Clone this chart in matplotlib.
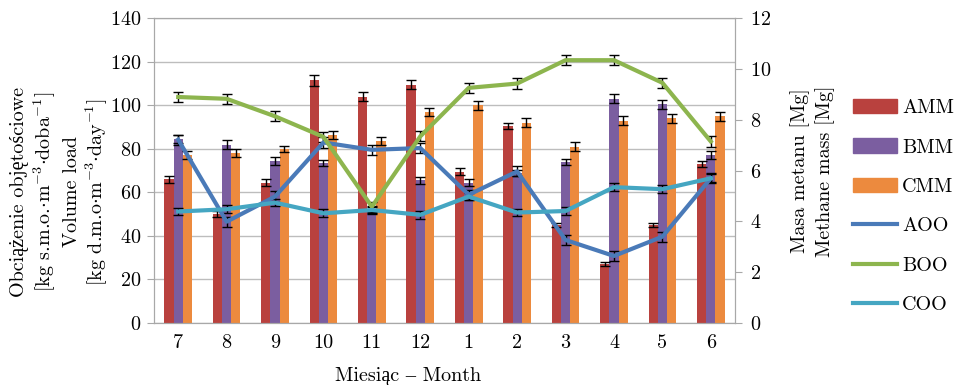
import matplotlib
matplotlib.use("Agg")
import matplotlib.pyplot as plt
import numpy as np
from matplotlib.patches import Patch
from matplotlib.lines import Line2D

plt.rcParams["font.family"] = ["cmr10", "Liberation Serif"]
plt.rcParams["mathtext.fontset"] = "cm"
plt.rcParams["axes.formatter.use_mathtext"] = True

months = ["7", "8", "9", "10", "11", "12", "1", "2", "3", "4", "5", "6"]

# volume load (left axis)
amm = [66, 50, 64.5, 111.5, 104, 109.5, 69.5, 90.5, 45, 27, 45, 73]
bmm = [84.5, 82, 74.5, 73.5, 52, 65.5, 64.5, 69, 74, 103, 100.5, 77]
cmm = [77, 78, 80, 86.5, 83.5, 97, 100, 92, 81, 93, 94, 95]
amm_err = [1.5, 1.5, 1.5, 2.5, 2, 2, 1.5, 1.5, 1, 0.8, 1, 1.5]
bmm_err = [2, 2, 1.8, 1.5, 1.5, 1.5, 1.5, 1.5, 1.5, 2, 2, 1.8]
cmm_err = [1.8, 1.8, 1.5, 1.8, 1.8, 2, 2, 2, 2, 2, 2, 2]

# methane mass (right axis)
aoo = [7.22, 3.99, 4.98, 7.11, 6.82, 6.89, 5.05, 5.97, 3.27, 2.64, 3.40, 5.70]
boo = [8.90, 8.83, 8.14, 7.33, 4.58, 7.35, 9.26, 9.43, 10.35, 10.35, 9.46, 7.15]
coo = [4.39, 4.48, 4.74, 4.32, 4.45, 4.26, 4.98, 4.35, 4.41, 5.35, 5.27, 5.70]
aoo_err = [0.2] * 12
boo_err = [0.2] * 12
coo_err = [0.15] * 12

c_amm, c_bmm, c_cmm = "#B9413E", "#7B5EA0", "#EC8A3E"
c_aoo, c_boo, c_coo = "#4A7AB8", "#8DB54E", "#45A6C2"
grid_c = "#BDBDBD"
spine_c = "#A8A8A8"
fs = 14.5

W, H = 958, 385
fig = plt.figure(figsize=(W / 100, H / 100), dpi=100)
x0, x1, ytop, ybot = 154, 735, 18.3, 323
ax = fig.add_axes([x0 / W, (H - ybot) / H, (x1 - x0) / W, (ybot - ytop) / H])

x = np.arange(len(months))
bw = 0.19
ekw = dict(ecolor="black", elinewidth=1.0, capsize=3.6, capthick=1.0)
ax.bar(x - bw, amm, bw, color=c_amm, yerr=amm_err, error_kw=ekw, zorder=2)
ax.bar(x, bmm, bw, color=c_bmm, yerr=bmm_err, error_kw=ekw, zorder=2)
ax.bar(x + bw, cmm, bw, color=c_cmm, yerr=cmm_err, error_kw=ekw, zorder=2)

ax.set_xlim(-0.5, len(months) - 0.5)
ax.set_ylim(0, 140)
ax.set_yticks(np.arange(0, 141, 20))
ax.set_xticks(x)
ax.set_xticklabels(months)
ax.yaxis.grid(True, color=grid_c, linewidth=1.0)
ax.set_axisbelow(True)
for s in ax.spines.values():
    s.set_color(spine_c)
ax.tick_params(axis="y", direction="out", length=5, color=spine_c, labelsize=fs, pad=4)
ax.tick_params(axis="x", length=0, labelsize=fs, pad=8)

ax2 = ax.twinx()
ax2.set_ylim(0, 12)
ax2.set_yticks(np.arange(0, 13, 2))
for vals, errs, col in [(aoo, aoo_err, c_aoo), (boo, boo_err, c_boo), (coo, coo_err, c_coo)]:
    ax2.errorbar(x, vals, yerr=errs, color=col, linewidth=3.0, ecolor="black",
                 elinewidth=1.0, capsize=3.6, capthick=1.0, zorder=3)
for s in ax2.spines.values():
    s.set_color(spine_c)
ax2.tick_params(axis="y", direction="out", length=5, color=spine_c, labelsize=fs, pad=6)

# axis titles
left_lines = ["Obciążenie objętościowe",
              r"[kg s.m.o.$\cdot$m$^{-3}$$\cdot$doba$^{-1}$]",
              "Volume load",
              r"[kg d.m.o$\cdot$m$^{-3}$$\cdot$day$^{-1}$]"]
for xp, t in zip([20, 45, 72, 97], left_lines):
    fig.text(xp / W, 1 - 192 / H, t, rotation=90, ha="center", va="center", fontsize=fs)
for xp, t in zip([800, 825], ["Masa metanu [Mg]", "Methane mass [Mg]"]):
    fig.text(xp / W, 1 - 171 / H, t, rotation=90, ha="center", va="center", fontsize=fs)
fig.text(408 / W, 1 - 376 / H, "Miesiąc – Month", ha="center", va="center", fontsize=fs)

handles = [Patch(color=c_amm), Patch(color=c_bmm), Patch(color=c_cmm),
           Line2D([], [], color=c_aoo, lw=3), Line2D([], [], color=c_boo, lw=3),
           Line2D([], [], color=c_coo, lw=3)]
labels = ["AMM", "BMM", "CMM", "AOO", "BOO", "COO"]
fig.legend(handles, labels, loc="upper left", bbox_to_anchor=(853 / W, 1 - 99 / H),
           frameon=False, fontsize=fs, borderpad=0, borderaxespad=0,
           labelspacing=1.06, handlelength=2.2, handletextpad=0.25, handleheight=0.7)

fig.savefig("out.png", dpi=100)
